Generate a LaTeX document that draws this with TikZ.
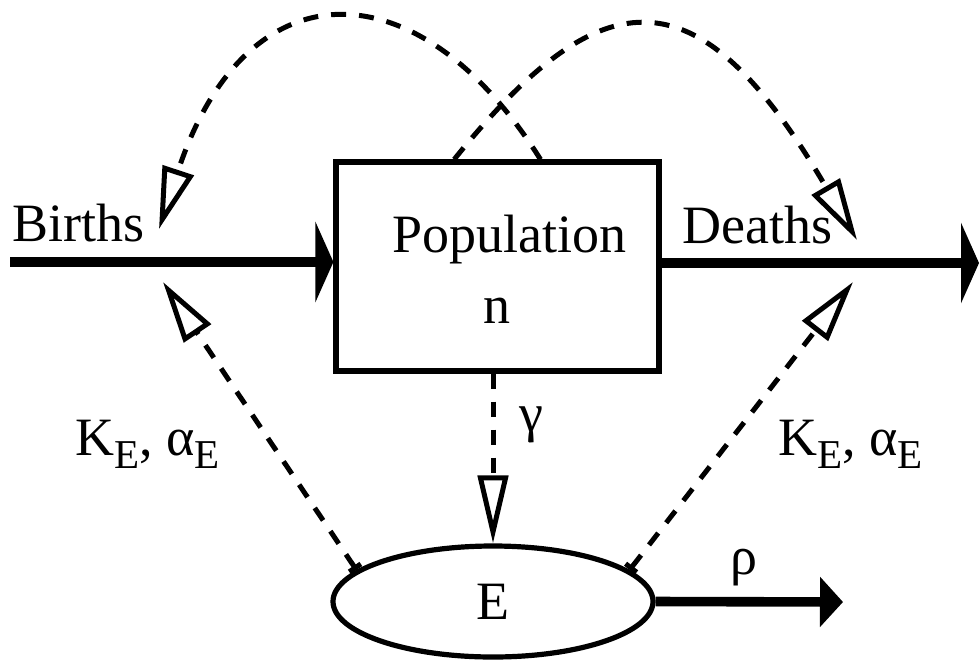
\documentclass[tikz,border=0pt]{standalone}
\usepackage{fontspec}
\setmainfont{Liberation Serif}
\usepackage{tikz}
\usetikzlibrary{arrows.meta, shapes.geometric, calc}
\newcommand{\bigfont}{\fontsize{27}{32}\selectfont}
\newcommand{\subE}{\raisebox{-6.5pt}{\fontsize{20.5}{20}\selectfont E}}

\begin{document}
\begin{tikzpicture}[
  x=0.5pt, y=-0.5pt,
  lbl/.style={font=\bigfont, inner sep=0pt, anchor=base west},
  popbox/.style={
    draw, line width=2.6pt, inner sep=0pt,
    minimum width=161.5pt, minimum height=104.5pt
  },
  pool/.style={
    draw, ellipse, line width=2.6pt, inner sep=0pt,
    minimum width=160pt, minimum height=55.5pt, font=\bigfont
  },
  flow/.style={line width=4.8pt, -{Triangle[length=9pt, width=40pt]}},
  outflow/.style={line width=4.8pt, -{Triangle[length=11.5pt, width=24.5pt]}},
  dep/.style={
    line width=2.5pt, dash pattern=on 7.5pt off 6.5pt,
    -{Triangle[open, length=31pt, width=16pt]}
  },
  deptick/.style={dep, {Bar[width=7pt]}-{Triangle[open, length=31pt, width=16pt]}},
  decay/.style={
    line width=2.5pt, dash pattern=on 7.5pt off 6.5pt,
    -{Triangle[open, length=34pt, width=15pt]}
  },
]
\useasboundingbox (0,0) rectangle (979,659);

%% ---- Compartments ----
\node[popbox] (pop) at (497.5,266.5) {};
\node[lbl] (popLbl) at (392,252) {Population};
\node[lbl] (nLbl) at (483,323) {n};
\node[pool] (ell) at (493,601.5) {E};

%% ---- Free ends ----
\coordinate (bIn)  at (10,262);
\coordinate (dOut) at (979,263);
\coordinate (bTop) at (159,229);
\coordinate (dTop) at (857,240);
\coordinate (bBot) at (163,282);
\coordinate (dBot) at (853,282);
\coordinate (rOut) at (843,602);

%% ---- Births / Deaths ----
\node[lbl] (birthLbl) at (12,241) {Births};
\node[lbl] (deathLbl) at (682,243) {Deaths};
\draw[flow] (bIn) -- (bIn -| pop.west);
\draw[flow] (pop.east |- dOut) -- (dOut);

%% ---- Density dependence (top) ----
\draw[dep] ($(pop.north west)!0.631!(pop.north east)$)
  .. controls (418,-36) and (246,-36) .. (bTop);
\draw[dep] ($(pop.north west)!0.368!(pop.north east)$)
  .. controls (605,-28) and (700,-28) .. (dTop);

%% ---- Environment dependence (bottom) ----
\draw[deptick] (ell.167) -- (bBot);
\draw[deptick] (ell.13) -- (dBot);
\node[lbl] (kLeft) at (75,455) {K\subE, α\subE};
\node[lbl] (kRight) at (778,455) {K\subE, α\subE};

%% ---- gamma / rho ----
\draw[decay] (pop.south -| ell.north) -- (ell.north);
\node[lbl] (gamLbl) at (519,431) {γ};
\draw[outflow] (ell.east) -- (rOut);
\node[lbl] (rhoLbl) at (730,574) {ρ};

\end{tikzpicture}
\end{document}
